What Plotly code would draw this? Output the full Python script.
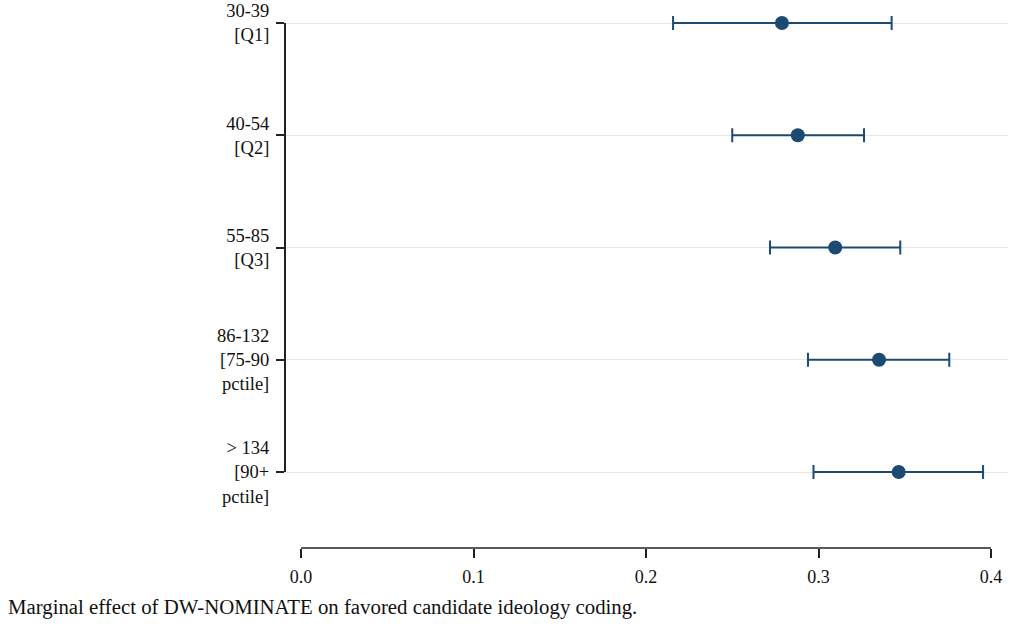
import plotly.graph_objects as go

categories = [
    "30-39<br>[Q1]",
    "40-54<br>[Q2]",
    "55-85<br>[Q3]",
    "86-132<br>[75-90<br>pctile]",
    "> 134<br>[90+<br>pctile]",
]
estimates = [0.2788, 0.2880, 0.3097, 0.3351, 0.3465]
lower = [0.2157, 0.2500, 0.2719, 0.2939, 0.2971]
upper = [0.3424, 0.3264, 0.3474, 0.3758, 0.3954]
x_ticks = [0.0, 0.1, 0.2, 0.3, 0.4]
x_tick_labels = ["0.0", "0.1", "0.2", "0.3", "0.4"]
caption = "Marginal effect of DW-NOMINATE on favored candidate ideology coding."

color = "#1b4a73"
font_family = "Liberation Serif, DejaVu Serif, serif"

err_plus = [u - e for u, e in zip(upper, estimates)]
err_minus = [e - l for e, l in zip(estimates, lower)]

fig = go.Figure(
    go.Scatter(
        x=estimates,
        y=categories,
        mode="markers",
        marker=dict(size=14, color=color),
        error_x=dict(
            type="data",
            symmetric=False,
            array=err_plus,
            arrayminus=err_minus,
            color=color,
            thickness=2,
            width=7,
        ),
        showlegend=False,
    )
)

fig.update_layout(
    width=1011,
    height=626,
    margin=dict(l=285, r=3, t=0, b=78),
    paper_bgcolor="white",
    plot_bgcolor="white",
    font=dict(family=font_family, size=19, color="#111"),
    title=dict(
        text=caption,
        xref="container",
        yref="container",
        x=8 / 1011,
        y=(626 - 607) / 626,
        xanchor="left",
        yanchor="middle",
        font=dict(family=font_family, size=20.8, color="#111"),
    ),
    xaxis=dict(
        range=[-16 / 1725, 0.4 + 17 / 1725],
        tickvals=x_ticks,
        ticktext=x_tick_labels,
        showgrid=False,
        zeroline=False,
        showline=False,
        ticks="outside",
        ticklen=9,
        tickwidth=1.5,
        tickcolor="#222",
        tickfont=dict(size=18),
        ticklabelstandoff=3,
    ),
    yaxis=dict(
        type="category",
        categoryorder="array",
        categoryarray=categories,
        range=[4 + 76 / 112.25, -23 / 112.25],
        showgrid=True,
        gridcolor="#e6e6e6",
        gridwidth=1,
        zeroline=False,
        showline=False,
        ticks="outside",
        ticklen=8,
        tickwidth=2,
        tickcolor="#222",
        tickfont=dict(size=18.5),
        ticklabelstandoff=3,
    ),
    shapes=[
        dict(type="line", xref="paper", yref="y", x0=0, x1=0,
             y0=categories[0], y1=categories[-1],
             line=dict(color="#222", width=2)),
        dict(type="line", xref="x", yref="paper", x0=x_ticks[0], x1=x_ticks[-1],
             y0=0, y1=0, line=dict(color="#222", width=1.5)),
    ],
)

fig.write_html("out.html")
